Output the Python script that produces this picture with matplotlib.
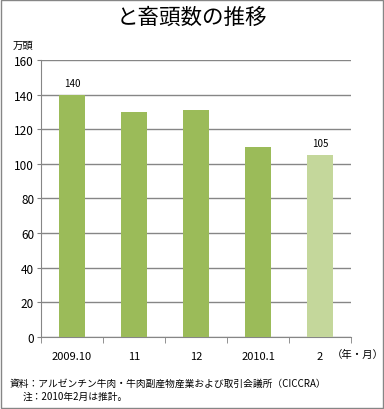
import matplotlib.pyplot as plt
import matplotlib.patches as mpatches

plt.rcParams['font.family'] = ['Noto Sans CJK JP', 'DejaVu Sans']

months = ['2009.10', '11', '12', '2010.1', '2']
heads = [140, 130, 131, 110, 105]
colors = ['#9BBB59', '#9BBB59', '#9BBB59', '#9BBB59', '#C4D79B']
shown = {0: '140', 4: '105'}

fig = plt.figure(figsize=(3.84, 4.10), dpi=100)
ax = fig.add_axes([0.107, 0.176, 0.807, 0.675])

x = list(range(len(months)))
ax.bar(x, heads, width=0.43, color=colors, zorder=3)
for i, lab in shown.items():
    ax.text(x[i], heads[i] + 4, lab, ha='center', va='bottom', fontsize=7)

ax.set_xlim(-0.5, 4.5)
ax.set_ylim(0, 160)
ax.set_yticks(range(0, 161, 20))
ax.tick_params(axis='y', labelsize=8.5, length=3, color='#808080', pad=2)
ax.set_xticks(x)
ax.set_xticklabels(months, fontsize=8)
ax.set_xticks([i - 0.5 for i in range(6)], minor=True)
ax.tick_params(axis='x', which='major', length=0, pad=10)
ax.tick_params(axis='x', which='minor', length=4, color='#808080')
ax.grid(axis='y', color='#868686', linewidth=1, zorder=0)
for s in ['top', 'right']:
    ax.spines[s].set_visible(False)
for s in ['left', 'bottom']:
    ax.spines[s].set_color('#868686')

fig.text(0.5, 0.957, 'と畜頭数の推移', ha='center', va='center', fontsize=15.5)
fig.text(0.033, 0.888, '万頭', ha='left', va='center', fontsize=7.5)
fig.text(0.865, 0.134, '（年・月）', ha='left', va='center', fontsize=7.5)
fig.text(0.025, 0.063, '資料：アルゼンチン牛肉・牛肉副産物産業および取引会議所（CICCRA）',
         ha='left', va='center', fontsize=7)
fig.text(0.06, 0.031, '注：2010年2月は推計。', ha='left', va='center', fontsize=7)

fig.patches.append(mpatches.Rectangle((0.003, 0.003), 0.994, 0.994, transform=fig.transFigure,
                                      fill=False, edgecolor='#868686', linewidth=1))

fig.savefig('out.png', dpi=100)
